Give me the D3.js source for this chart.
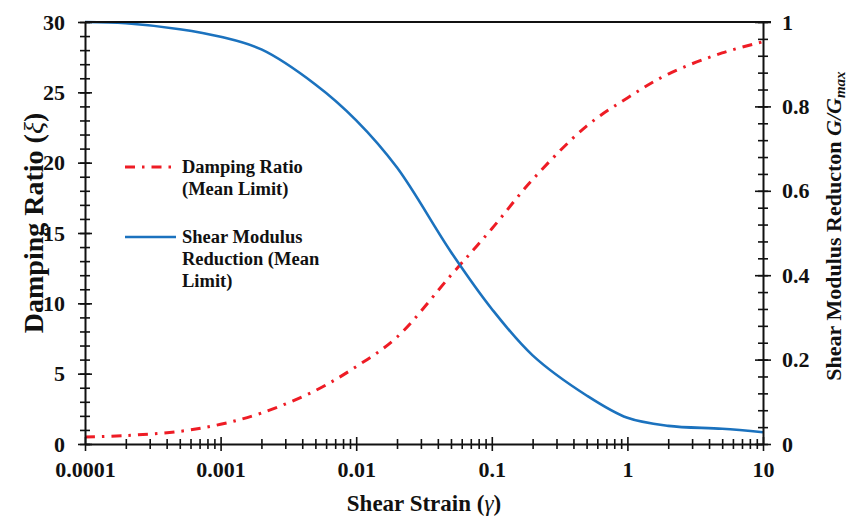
<!DOCTYPE html>
<html>
<head>
<meta charset="utf-8">
<script src="https://cdn.jsdelivr.net/npm/d3@7"></script>
<style>
  body { margin: 0; background: #fff; }
</style>
</head>
<body>
<div id="chart"></div>
<script>
// shear strain (gamma) sample points
const strain = [0.0001, 0.0002, 0.0005, 0.001, 0.002, 0.005, 0.01, 0.02, 0.05, 0.1, 0.2, 0.5, 1, 2, 5, 10];
// damping ratio, mean limit (left axis)
const damping = [0.5, 0.6, 0.9, 1.4, 2.2, 3.8, 5.5, 7.6, 12.0, 15.3, 18.8, 22.6, 24.6, 26.3, 27.8, 28.6];
// G/Gmax, mean limit (right axis)
const modulus = [1.0, 0.997, 0.983, 0.965, 0.935, 0.852, 0.767, 0.655, 0.455, 0.32, 0.21, 0.115, 0.062, 0.043, 0.036, 0.028];

const xTicks = [0.0001, 0.001, 0.01, 0.1, 1, 10];
const xTickLabels = ["0.0001", "0.001", "0.01", "0.1", "1", "10"];
const leftTicks = [0, 5, 10, 15, 20, 25, 30];
const rightTicks = [0, 0.2, 0.4, 0.6, 0.8, 1];
const rightTickLabels = ["0", "0.2", "0.4", "0.6", "0.8", "1"];

const W = 847, H = 519;
const margin = { top: 22, right: 84, bottom: 75, left: 85 };
const width = W - margin.left - margin.right;
const height = H - margin.top - margin.bottom;
const FONT = "'Liberation Serif'";

const x = d3.scaleLog().domain([0.0001, 10]).range([0, width]);
const yL = d3.scaleLinear().domain([0, 30]).range([height, 0]);
const yR = d3.scaleLinear().domain([0, 1]).range([height, 0]);

const svg = d3.select("#chart").append("svg")
  .attr("width", W).attr("height", H);
const g = svg.append("g").attr("transform", "translate(" + margin.left + "," + margin.top + ")");

// minor ticks for the log axis
const xMinor = [];
xTicks.slice(0, -1).forEach(d => { for (let k = 2; k <= 9; k++) xMinor.push(d * k); });

// curves
const line = d3.line().curve(d3.curveCatmullRom.alpha(0.5));
const redPts = strain.map((s, i) => [x(s), yL(damping[i])]);
const bluePts = strain.map((s, i) => [x(s), yR(modulus[i])]);

g.append("path")
  .attr("d", line(redPts))
  .attr("fill", "none")
  .attr("stroke", "#ee1c25")
  .attr("stroke-width", 3)
  .attr("stroke-dasharray", "10,7,2.5,7");

g.append("path")
  .attr("d", line(bluePts))
  .attr("fill", "none")
  .attr("stroke", "#1b72be")
  .attr("stroke-width", 2.6);

// axes
const crossTicks = (sel, len, vertical) => {
  sel.selectAll(".tick line").each(function () {
    const l = d3.select(this);
    if (vertical) l.attr("y1", -len).attr("y2", len);
    else l.attr("x1", -len).attr("x2", len);
  });
};
const styleAxis = sel => {
  sel.select(".domain").attr("stroke", "#111").attr("stroke-width", 2);
  sel.selectAll(".tick line").attr("stroke", "#111").attr("stroke-width", 1.6);
};

// x axis
const xMin = g.append("g").attr("transform", "translate(0," + height + ")")
  .call(d3.axisBottom(x).tickValues(xMinor).tickFormat(""));
xMin.select(".domain").remove();
crossTicks(xMin, 5, true);
styleAxis(xMin);

const xAx = g.append("g").attr("transform", "translate(0," + height + ")")
  .call(d3.axisBottom(x).tickValues(xTicks).tickFormat((d, i) => xTickLabels[i]).tickSizeOuter(0));
crossTicks(xAx, 7, true);
styleAxis(xAx);
xAx.selectAll(".tick text").attr("y", 33).attr("dy", 0).attr("font-size", 22);

// left axis
const lMin = g.append("g").call(d3.axisLeft(yL).tickValues(d3.range(0, 31)).tickFormat(""));
lMin.select(".domain").remove();
crossTicks(lMin, 5, false);
styleAxis(lMin);

const lAx = g.append("g").call(d3.axisLeft(yL).tickValues(leftTicks).tickSizeOuter(0));
crossTicks(lAx, 7, false);
styleAxis(lAx);
lAx.selectAll(".tick text").attr("x", -20).attr("font-size", 22);

// right axis
const rMin = g.append("g").attr("transform", "translate(" + width + ",0)")
  .call(d3.axisRight(yR).tickValues(d3.range(0, 26).map(i => i * 0.04)).tickFormat(""));
rMin.select(".domain").remove();
crossTicks(rMin, 5, false);
styleAxis(rMin);

const rAx = g.append("g").attr("transform", "translate(" + width + ",0)")
  .call(d3.axisRight(yR).tickValues(rightTicks).tickFormat((d, i) => rightTickLabels[i]).tickSizeOuter(0));
crossTicks(rAx, 8, false);
styleAxis(rAx);
rAx.selectAll(".tick text").attr("x", 19).attr("font-size", 22);

// top border line
g.append("line")
  .attr("x1", 0).attr("x2", width + 8).attr("y1", 0).attr("y2", 0)
  .attr("stroke", "#111").attr("stroke-width", 2);

// axis titles
svg.append("text")
  .attr("x", margin.left + width / 2).attr("y", 511)
  .attr("text-anchor", "middle").attr("font-size", 23)
  .html('Shear Strain (<tspan font-style="italic" font-weight="normal">γ</tspan>)');

svg.append("text")
  .attr("transform", "translate(33,223) rotate(-90)")
  .attr("text-anchor", "middle").attr("font-size", 28)
  .attr("dy", "0.35em")
  .html('Damping Ratio (<tspan font-style="italic" font-weight="normal">ξ</tspan>)');

svg.append("text")
  .attr("transform", "translate(833,226) rotate(-90)")
  .attr("text-anchor", "middle").attr("font-size", 22)
  .attr("dy", "0.35em")
  .html('Shear Modulus Reducton <tspan font-style="italic">G/G</tspan><tspan font-style="italic" font-size="15" dy="4">max</tspan>');

// legend
const legend = [
  { lines: ["Damping Ratio", "(Mean Limit)"], color: "#ee1c25", dash: "10,7,2.5,7", w: 3, y: 167 },
  { lines: ["Shear Modulus", "Reduction (Mean", "Limit)"], color: "#1b72be", dash: null, w: 2.6, y: 237 }
];
const lg = svg.append("g");
legend.forEach(item => {
  lg.append("line")
    .attr("x1", 125).attr("x2", 176).attr("y1", item.y).attr("y2", item.y)
    .attr("stroke", item.color).attr("stroke-width", item.w)
    .attr("stroke-dasharray", item.dash);
  const t = lg.append("text").attr("x", 182).attr("y", item.y + 6).attr("font-size", 18.5);
  item.lines.forEach((s, i) => {
    t.append("tspan").attr("x", 182).attr("dy", i === 0 ? 0 : 22).text(s);
  });
});

// serif bold everywhere, set inline so the axis defaults do not win
svg.selectAll("text")
  .style("font-family", FONT)
  .style("font-weight", "bold")
  .style("fill", "#111");
</script>
</body>
</html>
